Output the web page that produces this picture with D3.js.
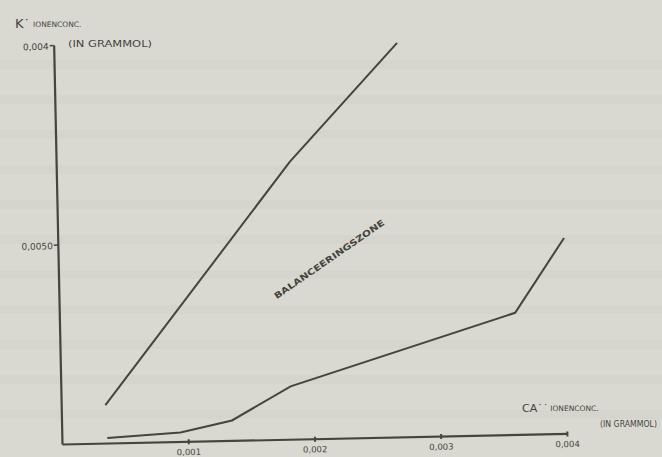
<!DOCTYPE html>
<html>
<head>
<meta charset="utf-8">
<script src="https://cdn.jsdelivr.net/npm/d3@7"></script>
<style>
  body { margin: 0; background: #dad9d1; }
  svg { display: block; }
  text { font-family: "DejaVu Sans", sans-serif; fill: #44443b; }
</style>
</head>
<body>
<script>
// K' concentration against Ca'' concentration (gram-mol)
var upperX = [0.00035, 0.00185, 0.00272];
var upperY = [0.00038, 0.00278, 0.00395];

var lowerX = [0.00036, 0.00094, 0.00135, 0.00182, 0.00361, 0.00401];
var lowerY = [0.00005, 0.00009, 0.00020, 0.00053, 0.00122, 0.00196];

var xTicks = [0.001, 0.002, 0.003, 0.004];
var xTickLabels = ["0,001", "0,002", "0,003", "0,004"];
var yTicks = [0.002, 0.004];
var yTickLabels = ["0,0050", "0,004"];

var width = 662, height = 457;
var ox = 62, oy = 444;   // chart origin

var svg = d3.select("body").append("svg")
    .attr("width", width)
    .attr("height", height);

// faint paper bands (print-through from the other side of the page)
var bands = [60, 95, 130, 165, 200, 235, 270, 305, 340, 375, 410];
svg.selectAll("rect.band").data(bands).enter().append("rect")
    .attr("class", "band")
    .attr("x", 0).attr("y", function(d){ return d; })
    .attr("width", width).attr("height", 9)
    .attr("fill", "#d3d2ca").attr("opacity", 0.6);

// whole chart is a little tilted in the scan
var g = svg.append("g")
    .attr("transform", "rotate(-1.2," + ox + "," + oy + ")");

var x = d3.scaleLinear().domain([0, 0.004]).range([ox, ox + 505]);
var y = d3.scaleLinear().domain([0, 0.004]).range([oy, oy - 399]);

var ink = "#45453a";

//x axis
var xAxis = g.append("g")
    .attr("transform", "translate(0," + oy + ")")
    .call(d3.axisBottom(x).tickValues(xTicks).tickSize(3).tickSizeOuter(0)
        .tickFormat(function(d, i){ return xTickLabels[i]; }));
xAxis.select(".domain").attr("stroke", ink).attr("stroke-width", 2.2);
xAxis.selectAll(".tick line").attr("stroke", ink).attr("stroke-width", 2).attr("y1", -2);
xAxis.selectAll(".tick text").attr("font-size", 8.5).attr("fill", "#4a4a41")
    .attr("font-family", "DejaVu Sans Condensed, DejaVu Sans, sans-serif").attr("dy", "0.9em");

//y axis
var yAxis = g.append("g")
    .attr("transform", "translate(" + ox + ",0)")
    .call(d3.axisLeft(y).tickValues(yTicks).tickSize(4).tickSizeOuter(0)
        .tickFormat(function(d, i){ return yTickLabels[i]; }));
yAxis.select(".domain").attr("stroke", ink).attr("stroke-width", 2.2);
yAxis.selectAll(".tick line").attr("stroke", ink).attr("stroke-width", 1.5);
yAxis.selectAll(".tick text").attr("font-size", 9).attr("fill", "#4a4a41")
    .attr("font-family", "DejaVu Sans Condensed, DejaVu Sans, sans-serif").attr("x", -5).attr("dy", "0.45em");

var line = d3.line()
    .x(function(d){ return x(d[0]); })
    .y(function(d){ return y(d[1]); });

g.append("path")
    .datum(d3.zip(upperX, upperY))
    .attr("d", line)
    .attr("fill", "none").attr("stroke", ink).attr("stroke-width", 2);

g.append("path")
    .datum(d3.zip(lowerX, lowerY))
    .attr("d", line)
    .attr("fill", "none").attr("stroke", ink).attr("stroke-width", 2);

// zone label between the two lines
g.append("text")
    .attr("transform", "translate(" + x(0.00216) + "," + y(0.00177) + ") rotate(-33.5)")
    .attr("text-anchor", "middle")
    .attr("font-size", 8.5).attr("font-weight", "bold")
    .attr("textLength", 132).attr("lengthAdjust", "spacingAndGlyphs")
    .text("BALANCEERINGSZONE");

// axis titles
var yt = svg.append("text").attr("x", 15).attr("y", 28);
yt.append("tspan").attr("font-size", 13).text("K˙");
yt.append("tspan").attr("font-size", 7.5).attr("dx", 3).attr("dy", -1).text("IONENCONC.");
svg.append("text").attr("x", 68).attr("y", 47)
    .attr("font-size", 9).attr("textLength", 84).attr("lengthAdjust", "spacingAndGlyphs")
    .text("(IN GRAMMOL)");

var xt = svg.append("text").attr("x", 522).attr("y", 412);
xt.append("tspan").attr("font-size", 11).text("CA˙˙");
xt.append("tspan").attr("font-size", 7.5).attr("dx", 2).attr("dy", -1).text("IONENCONC.");
svg.append("text").attr("x", 600).attr("y", 427)
    .attr("font-size", 8.5).attr("textLength", 57).attr("lengthAdjust", "spacingAndGlyphs")
    .text("(IN GRAMMOL)");
</script>
</body>
</html>
